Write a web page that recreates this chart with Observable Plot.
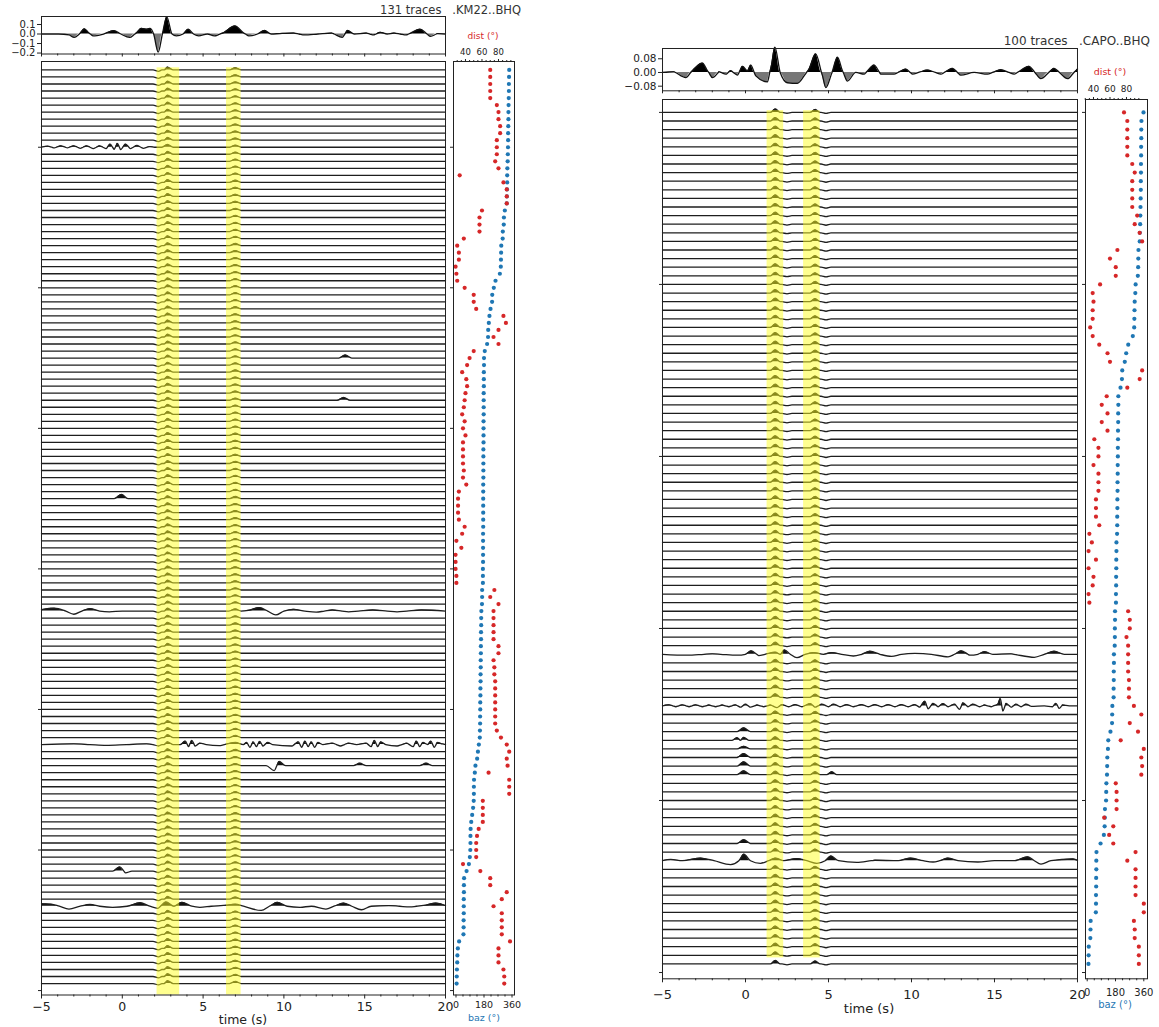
<!DOCTYPE html>
<html>
<head>
<meta charset="utf-8">
<script src="https://cdn.jsdelivr.net/npm/d3@7"></script>
<script src="https://cdn.jsdelivr.net/npm/@observablehq/plot@0.6"></script>
<style>
html,body{margin:0;padding:0;background:#fff;}
#root{position:relative;width:1159px;height:1027px;overflow:hidden;font-family:"DejaVu Sans",sans-serif;color:#222;}
.t{position:absolute;white-space:pre;line-height:1;}
</style>
</head>
<body>
<div id="root"></div>
<script>
// ---------------- DATA ----------------
const timeMajor = [-5, 0, 5, 10, 15, 20];
const timeMinor = [-4,-3,-2,-1,1,2,3,4,6,7,8,9,11,12,13,14,16,17,18,19];

// Left station (.KM22..BHQ), 131 traces, listed from top trace (131) down to bottom trace (1)
const leftDist = [70,70,70,70,70,78,80,80,82,82,78,78,78,76,80,33,86,90,90,90,60,57,57,57,38,30,32,32,28,29,30,39,50,50,53,86,89,80,74,80,50,45,42,36,41,42,40,39,38,36,39,37,40,37,37,37,37,38,37,41,32,31,31,31,32,
  39,36,29,35,28,28,28,29,29,75,70,80,74,74,74,74,74,80,80,74,75,75,76,76,76,76,76,76,76,78,83,90,93,90,91,68,93,93,93,61,61,61,61,56,54,53,53,53,37,58,70,70,90,84,74,84,84,84,84,94,80,80,80,86,87,87];
const leftBaz = [342,341,340,340,339,338,337,337,336,335,335,334,333,332,330,329,329,328,327,326,314,308,307,301,300,291,290,289,288,282,254,243,233,232,222,215,211,207,206,200,185,
  180,180,179,179,179,178,178,178,178,177,177,177,177,176,176,176,176,176,175,175,175,175,175,175,
  175,174,174,174,174,174,173,173,173,168,168,167,163,162,162,161,161,160,160,159,159,158,158,157,157,156,156,155,155,154,153,147,141,136,125,121,116,115,115,114,110,104,98,94,93,93,92,89,83,68,52,51,51,50,50,50,49,49,48,20,12,9,8,6,5,4];

// Right station (.CAPO..BHQ), 100 traces, listed from top trace (100) down to bottom trace (1)
const rightDist = [77,81,81,81,81,81,87,90,87,87,87,87,93,90,96,99,69,60,67,67,48,39,40,39,39,36,39,47,57,60,99,96,81,56,50,57,50,57,41,46,46,40,46,46,46,43,43,43,47,35,
  38,34,43,34,40,39,34,35,82,84,84,80,82,82,82,82,83,83,83,89,98,84,94,73,101,98,99,98,67,68,68,68,53,64,59,64,91,81,91,91,91,91,101,101,89,90,90,95,95,95];
const rightBaz = [358,345,344,344,343,343,342,342,341,341,340,339,338,337,335,334,326,325,324,322,308,306,302,301,300,299,290,261,248,239,223,221,212,198,198,197,197,196,196,195,195,194,194,193,193,192,192,191,191,190,
  186,186,185,185,184,184,183,183,177,177,176,176,175,170,170,169,169,168,168,160,159,158,148,134,132,128,127,126,122,121,120,113,112,111,106,85,59,58,58,57,57,56,56,55,22,21,20,10,9,8];

// Stacked traces (time s, amplitude)
const leftStackT = [-5,-4.8,-3.95,-3.3,-2.98,-2.66,-2.34,-2.06,-1.81,-1.16,-0.52,-0.09,0.45,0.87,1.19,1.52,1.73,1.94,2.22,2.48,2.75,3.08,3.34,3.76,4.08,4.41,4.73,5.26,5.69,6.22,6.97,7.51,7.83,8.37,8.8,9.22,9.76,10.61,11.26,12.11,12.97,13.61,13.94,14.36,15.11,15.54,15.97,16.39,16.82,17.57,18.43,19.07,19.5,20];
const leftStackA = [0,0,0,-0.01,-0.036,0,0.055,0.01,-0.02,0,0.036,0,-0.036,0.01,0.06,0.05,0.06,0,-0.19,0,0.18,0,-0.02,0,0.05,0,-0.02,0,-0.02,0.01,0.085,0.01,-0.02,0,0.037,0,0.005,0.01,-0.01,0,0.01,-0.036,0.037,0,0.01,-0.01,0.018,0,0.01,-0.01,0.05,-0.025,0.005,0];
const rightStackT = [-5,-4.3,-3.6,-3.1,-2.59,-2.29,-1.99,-1.59,-1.19,-0.89,-0.48,-0.18,0.12,0.32,0.62,1.32,1.56,1.77,2.09,2.53,3.13,3.53,3.83,4.23,4.64,4.84,5.14,5.54,5.84,6.14,6.64,7.15,7.75,8.15,8.95,9.66,10.06,10.96,11.77,12.47,12.97,13.77,14.58,15.38,16.18,17.08,17.79,18.59,19.4,20];
const rightStackA = [0,0.004,-0.03,0.02,0.055,0.01,-0.03,0.004,-0.01,0.01,-0.016,0.036,0.01,0.043,-0.02,-0.055,0.04,0.148,0,-0.06,-0.063,-0.02,0.02,0.109,-0.02,-0.089,-0.02,0.089,0.01,-0.05,0,-0.01,0.043,-0.01,-0.01,0.02,-0.01,0.014,-0.01,0.024,-0.016,0,-0.01,0.016,-0.01,0.036,-0.036,0.024,-0.036,0.02];

// Arrivals seen on nearly every trace (time s, amplitude in trace spacings)
const leftCommon = [[2.25, -0.2], [2.8, 0.4], [7.0, 0.3]];
const rightCommon = [[1.8, 0.4], [2.5, -0.1], [4.2, 0.35], [4.85, -0.12]];

// Traces with conspicuous wiggles: [trace number (1 = bottom), [[time, amplitude], ...]]
const leftSalient = [
  [120, [[-5,0],[-4.6,0.15],[-4.2,-0.1],[-3.8,0.2],[-3.4,-0.1],[-3.0,0.2],[-2.6,-0.15],[-2.2,0.2],[-1.8,-0.2],[-1.4,0.2],[-1.0,-0.2],[-0.75,0.45],[-0.5,-0.3],[-0.3,0.55],[-0.1,-0.35],[0.2,0.45],[0.5,-0.2],[0.9,0.25],[1.3,-0.15],[1.7,0.1],[2.0,0]]],
  [90, [[13.4,0],[13.8,0.45],[14.2,0]]],
  [84, [[13.3,0],[13.7,0.4],[14.1,0]]],
  [70, [[-0.5,0],[-0.05,0.6],[0.35,0]]],
  [54, [[-5,0.2],[-4.2,0.4],[-3.5,0],[-3.0,-0.45],[-2.5,0],[-2.0,0.35],[-1.4,0],[-0.8,-0.1],[0,0],[6.6,0],[7.0,0.3],[7.35,0],[7.8,0.1],[8.5,0.5],[9.0,0],[9.5,-0.55],[10.0,0],[10.6,0.25],[11.3,0],[12,-0.15],[13,0.15],[14,-0.1],[15.5,0.15],[17,-0.1],[18.5,0.15],[20,0]]],
  [35, [[-5,0],[-3,0.1],[-1,-0.1],[1.5,0.1],[3.6,0],[3.9,0.5],[4.1,-0.3],[4.3,0.6],[4.5,-0.2],[4.8,0.2],[5.2,0],[6.0,-0.15],[6.5,0.1],[7.0,0.3],[7.5,0],[7.7,0.3],[7.9,-0.4],[8.1,0.4],[8.3,-0.3],[8.5,0.45],[8.7,-0.2],[9.0,0.3],[9.3,0],[10.5,-0.2],[10.9,0.4],[11.1,-0.4],[11.3,0.5],[11.5,-0.3],[11.7,0.4],[11.9,-0.4],[12.1,0.3],[12.4,0],[13,0.2],[13.5,-0.2],[14,0.2],[14.5,0],[15.1,0.2],[15.4,-0.3],[15.6,0.6],[15.8,-0.3],[16.0,0.4],[16.3,0],[17,-0.2],[17.6,0.2],[18.0,-0.3],[18.2,0.5],[18.4,-0.3],[18.6,0.3],[18.9,0],[19.1,0.5],[19.3,-0.4],[19.5,0.3],[19.8,0.1],[20,0]]],
  [32, [[8.9,0],[9.4,-0.7],[9.7,0.6],[10.1,0],[14.3,0],[14.7,0.35],[15.1,0],[18.4,0],[18.8,0.35],[19.2,0]]],
  [17, [[-0.6,0],[-0.15,0.6],[0.2,-0.25],[0.6,0]]],
  [12, [[-5,0.35],[-4.4,0.3],[-3.9,0],[-3.3,-0.4],[-2.6,0],[-2.0,0.25],[-1.4,0],[-0.6,-0.15],[0.3,0],[1.1,0.5],[1.7,0],[2.2,-0.3],[2.7,0.6],[3.2,0],[3.7,0.55],[4.3,0],[4.8,-0.15],[5.5,0],[6.5,0.15],[7.0,0.3],[7.5,0],[8.6,-0.6],[9.1,0],[9.6,0.55],[10.2,0],[11,-0.15],[11.7,0],[12.6,-0.4],[13.1,0],[13.7,0.45],[14.2,0],[14.8,-0.5],[15.4,0],[16.5,0.1],[17.8,-0.1],[18.8,0.15],[19.4,0.45],[20,0.1]]]
];
const rightSalient = [
  [37, [[-5,0],[-3.5,-0.1],[-2,0.05],[-0.5,-0.1],[0.0,0],[0.35,0.4],[0.8,-0.15],[1.8,0.25],[2.1,0],[2.35,0.5],[2.7,0],[3.1,-0.4],[3.6,0],[4.1,0.2],[4.7,0],[5.2,0.2],[5.8,0],[6.5,-0.2],[7.0,0],[7.5,0.35],[8.1,0],[8.8,-0.25],[9.4,0],[10.2,0.1],[11.2,0],[12.2,-0.3],[12.6,0],[13.0,0.4],[13.5,-0.1],[14.0,0],[14.4,0.3],[14.9,0],[16,0.05],[17.4,-0.35],[18.0,0],[18.6,0.35],[19.2,0],[20,0]]],
  [31, [[-5,0],[-4.6,0.12],[-4.2,-0.1],[-3.8,0.12],[-3.4,-0.1],[-3.0,0.12],[-2.6,-0.1],[-2.2,0.1],[-1.8,-0.1],[-1.4,0.1],[-1.0,-0.1],[-0.6,0.12],[-0.3,-0.15],[0,0.2],[0.3,-0.15],[0.7,0.1],[1.1,-0.1],[1.5,0.1],[1.9,-0.2],[2.2,0.15],[2.6,-0.1],[3.0,0.15],[3.4,-0.1],[3.9,0.25],[4.2,-0.15],[4.6,0.2],[5.0,-0.1],[5.3,0.2],[5.7,-0.1],[6.1,0.15],[6.5,-0.1],[7.0,0.15],[7.4,-0.1],[7.8,0.15],[8.2,-0.1],[8.6,0.15],[9.0,-0.1],[9.4,0.15],[9.8,-0.1],[10.2,0.15],[10.5,-0.15],[10.8,0.55],[11.0,-0.35],[11.3,0.3],[11.6,-0.1],[11.9,0.25],[12.2,-0.1],[12.6,0.2],[12.9,-0.4],[13.1,0.35],[13.4,-0.1],[13.7,0.2],[14.1,-0.1],[14.4,0.1],[14.8,-0.1],[15.2,0.2],[15.35,0.85],[15.5,-0.6],[15.7,0.3],[16.0,-0.15],[16.3,0.2],[16.6,-0.1],[16.9,0.2],[17.2,-0.05],[18.0,0],[18.5,-0.1],[18.7,0.3],[18.9,-0.3],[19.1,0.1],[19.5,0],[20,0]]],
  [28, [[-0.5,0],[-0.1,0.45],[0.3,0]]],
  [27, [[-0.8,0],[-0.5,0.3],[-0.3,0],[-0.1,0.35],[0.2,0]]],
  [26, [[-0.5,0],[-0.1,0.3],[0.3,0]]],
  [25, [[-0.5,0],[-0.1,0.45],[0.3,0]]],
  [24, [[-0.5,0],[-0.1,0.5],[0.3,0]]],
  [23, [[-0.5,0],[-0.1,0.45],[0.3,0],[4.9,0],[5.2,0.35],[5.5,0]]],
  [15, [[-0.5,0],[-0.1,0.45],[0.3,0]]],
  [13, [[-5,0],[-4.5,0.15],[-3.8,0],[-2.7,0.3],[-1.9,0],[-0.9,-0.45],[-0.4,0],[-0.1,0.75],[0.3,0],[0.9,-0.3],[1.4,0],[1.8,0.3],[2.3,0],[3.1,0.25],[3.7,0],[4.3,-0.3],[4.8,0],[5.15,0.55],[5.6,0],[6.7,-0.2],[7.8,0.05],[9.2,0],[9.95,0.3],[10.7,0],[11.3,-0.15],[11.7,0],[12.2,0.3],[12.8,0],[14,-0.15],[15,0],[16.2,0],[17.0,0.45],[17.4,0],[17.8,-0.4],[18.4,0],[19.7,0.2],[20,0.05]]]
];

// Highlighted time windows (s)
const leftBands = [[2.15, 3.55], [6.45, 7.35]];
const rightBands = [[1.3, 2.3], [3.5, 4.5]];

const leftTraceTicks = [0, 20, 40, 60, 80, 100, 120];
const rightTraceTicks = [0, 20, 40, 60, 80, 100];
const leftAmpTicks = [0.1, 0.0, -0.1, -0.2];
const rightAmpTicks = [0.08, 0.0, -0.08];
const distTicks = [40, 60, 80];
const distMinor = [30, 35, 45, 50, 55, 65, 70, 75, 85, 90, 95];
const bazTicks = [0, 180, 360];
const bazMinor = [45, 90, 135, 225, 270, 315];

// ---------------- HELPERS ----------------
const root = document.getElementById("root");
const RED = "#d62728", BLUE = "#1f77b4";

function place(svg, left, top) {
  const d = document.createElement("div");
  d.style.cssText = `position:absolute;left:${left}px;top:${top}px;`;
  d.appendChild(svg);
  root.appendChild(d);
}
function framed(x0, x1, y0, y1, m, opts, fontSize) {
  const svg = Plot.plot({
    ...opts,
    width: (x1 - x0) + m[1] + m[3],
    height: (y1 - y0) + m[0] + m[2],
    marginTop: m[0], marginRight: m[1], marginBottom: m[2], marginLeft: m[3],
    style: {background: "transparent", fontFamily: "DejaVu Sans, sans-serif", fontSize: fontSize + "px", color: "#222", overflow: "visible"}
  });
  place(svg, x0 - m[3], y0 - m[0]);
}
function text(str, x, y, size, color, align) {
  const d = document.createElement("div");
  d.className = "t";
  d.textContent = str;
  const tx = align === "right" ? "-100%" : align === "left" ? "0" : "-50%";
  d.style.cssText += `left:${x}px;top:${y}px;font-size:${size}px;color:${color};transform:translate(${tx},-50%);`;
  root.appendChild(d);
}
function withCrossings(pts) {
  const out = [];
  for (let j = 0; j < pts.length; j++) {
    if (j > 0) {
      const [t0, a0] = pts[j - 1], [t1, a1] = pts[j];
      if (a0 * a1 < 0) out.push([t0 + (t1 - t0) * a0 / (a0 - a1), 0]);
    }
    out.push(pts[j]);
  }
  return out;
}
function buildTraces(N, common, salient, w) {
  const sal = new Map(salient);
  const lines = [], fills = [];
  for (let n = 1; n <= N; n++) {
    const own = (sal.get(n) || []).map(p => p.slice());
    const pts = own.slice();
    for (const [tc, a] of common) {
      if (own.some(([t]) => Math.abs(t - tc) < 0.6)) continue;
      pts.push([tc - w, 0], [tc, a], [tc + w, 0]);
    }
    if (!pts.some(([t]) => t <= -5)) pts.push([-5, 0]);
    if (!pts.some(([t]) => t >= 20)) pts.push([20, 0]);
    pts.sort((p, q) => p[0] - q[0]);
    for (const [t, a] of withCrossings(pts)) {
      lines.push({id: n, t, y: n + a});
      fills.push({id: n, t, y1: n, y2: n + Math.max(a, 0)});
    }
  }
  return {lines, fills};
}
function stackRows(T, A) {
  return withCrossings(T.map((t, i) => [t, A[i]])).map(([t, a]) => ({t, a, pos: Math.max(a, 0), neg: Math.min(a, 0)}));
}
const blank = () => "";

// ---------------- PANEL DRAWING ----------------
function drawPanel(cfg) {
  const {N, dist, baz, common, salient, w, bands, traceTicks, ampTicks, ampFmt, ampDomain,
         stackT, stackA, main, stack, dots, yDomain, bandY, distDomain, bazDomain, tickPad, fs} = cfg;

  // stacked trace
  const srows = stackRows(stackT, stackA);
  framed(stack[0], stack[1], stack[2], stack[3], [2, 2, 6, 40], {
    x: {domain: [-5, 20]},
    y: {domain: ampDomain},
    marks: [
      Plot.areaY(srows, {x: "t", y1: () => 0, y2: "pos", fill: "#000", curve: "monotone-x"}),
      Plot.areaY(srows, {x: "t", y1: () => 0, y2: "neg", fill: "#777", curve: "monotone-x"}),
      Plot.line(srows, {x: "t", y: "a", stroke: "#111", strokeWidth: 1.3, curve: "monotone-x"}),
      Plot.frame({stroke: "#222"}),
      Plot.axisY(ampTicks, {tickSize: 4, tickPadding: 2, tickFormat: d3.format(ampFmt), label: null}),
      Plot.axisX(timeMajor, {tickSize: 3, tickFormat: blank, label: null}),
      Plot.axisX(timeMinor, {tickSize: 2, tickFormat: blank, label: null})
    ]
  }, fs.stack);

  // record section
  const tr = buildTraces(N, common, salient, w);
  const bandRows = bands.map(([a, b]) => ({x1: a, x2: b, y1: bandY[0], y2: bandY[1]}));
  framed(main[0], main[1], main[2], main[3], [4, 4, 40, 30], {
    x: {domain: [-5, 20]},
    y: {domain: yDomain},
    marks: [
      Plot.areaY(tr.fills, {x: "t", y1: "y1", y2: "y2", z: "id", fill: "#111", curve: "monotone-x"}),
      Plot.line(tr.lines, {x: "t", y: "y", z: "id", stroke: "#1e1e1e", strokeWidth: 1.3, curve: "monotone-x"}),
      Plot.rect(bandRows, {x1: "x1", x2: "x2", y1: "y1", y2: "y2", fill: "#ffff22", fillOpacity: 0.5}),
      Plot.frame({stroke: "#222"}),
      Plot.axisX(timeMajor, {tickSize: 4, tickPadding: tickPad, label: null}),
      Plot.axisX(timeMinor, {tickSize: 2, tickFormat: blank, label: null}),
      Plot.axisY(traceTicks, {tickSize: 3, tickFormat: blank, label: null})
    ]
  }, fs.main);

  // back-azimuth dots (bottom axis)
  const rows = dist.map((d, k) => ({n: N - k, dist: d, baz: baz[k]}));
  framed(dots[0], dots[1], dots[2], dots[3], [30, 4, 40, 4], {
    x: {domain: bazDomain},
    y: {domain: yDomain, axis: null},
    marks: [
      Plot.dot(rows, {x: "baz", y: "n", r: 2.1, fill: BLUE, stroke: "none"}),
      Plot.axisX(bazTicks, {tickSize: 3, tickPadding: tickPad, label: null}),
      Plot.axisX(bazMinor, {tickSize: 2, tickFormat: blank, label: null})
    ]
  }, fs.baz);
  // distance dots (top axis)
  framed(dots[0], dots[1], dots[2], dots[3], [30, 4, 40, 4], {
    x: {domain: distDomain},
    y: {domain: yDomain},
    marks: [
      Plot.dot(rows, {x: "dist", y: "n", r: 2.1, fill: RED, stroke: "none"}),
      Plot.frame({stroke: "#222"}),
      Plot.axisX(distTicks, {anchor: "top", tickSize: 3, tickPadding: 4, label: null}),
      Plot.axisX(distMinor, {anchor: "top", tickSize: 2, tickFormat: blank, label: null}),
      Plot.axisY(traceTicks, {tickSize: 3, tickFormat: blank, label: null})
    ]
  }, fs.dist);
}

// left: frame y(i) = 989.6 - 7.03 i
drawPanel({
  N: 131, dist: leftDist, baz: leftBaz, common: leftCommon, salient: leftSalient, w: 0.35,
  bands: leftBands, traceTicks: leftTraceTicks, ampTicks: leftAmpTicks, ampFmt: ".1f", ampDomain: [-0.21, 0.184],
  stackT: leftStackT, stackA: leftStackA,
  main: [41, 445, 60.5, 994], stack: [41, 445, 15.5, 53], dots: [453, 514, 60.5, 994],
  yDomain: [-0.63, 132.2], bandY: [-0.63, 131.3], distDomain: [25.5, 99.4], bazDomain: [-16, 376],
  tickPad: 3, fs: {stack: 10, main: 12.5, baz: 9.5, dist: 8.5}
});
// right: frame y(i) = 971.7 - 8.6 i
drawPanel({
  N: 100, dist: rightDist, baz: rightBaz, common: rightCommon, salient: rightSalient, w: 0.3,
  bands: rightBands, traceTicks: rightTraceTicks, ampTicks: rightAmpTicks, ampFmt: ".2f", ampDomain: [-0.107, 0.14],
  stackT: rightStackT, stackA: rightStackA,
  main: [661.7, 1076.7, 99, 978.3], stack: [661.7, 1076.7, 47.7, 90], dots: [1085, 1147, 99, 978.3],
  yDomain: [-0.73, 101.5], bandY: [1.7, 100.2], distDomain: [30.3, 105.5], bazDomain: [-10.8, 383.5],
  tickPad: 7, fs: {stack: 10.5, main: 13, baz: 10, dist: 9}
});

// ---------------- TEXT ----------------
text("131 traces   .KM22..BHQ", 521, 11, 11.5, "#333", "right");
text("100 traces   .CAPO..BHQ", 1150, 41, 12, "#333", "right");
text("time (s)", 243, 1020, 12.5, "#222");
text("time (s)", 869, 1008, 13, "#222");
text("dist (°)", 483, 36, 9, RED);
text("dist (°)", 1110, 72, 9.5, RED);
text("baz (°)", 484, 1018, 9.5, BLUE);
text("baz (°)", 1115, 1005, 10, BLUE);
</script>
</body>
</html>
